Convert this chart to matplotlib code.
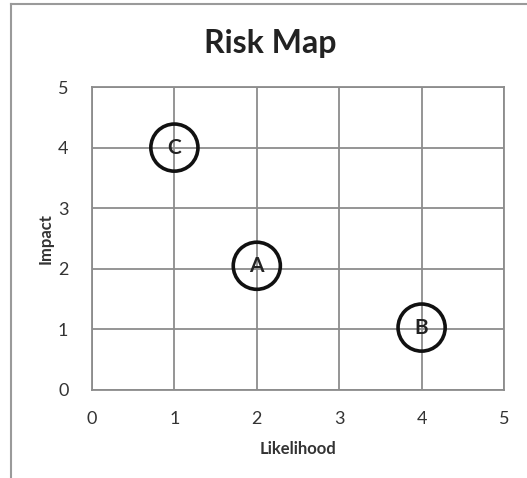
import matplotlib
matplotlib.use("Agg")
import matplotlib.pyplot as plt
from matplotlib.lines import Line2D

labels = ["A", "B", "C"]
likelihood = [2, 4, 1]
impact = [2.05, 1.03, 4.0]
ticks = [0, 1, 2, 3, 4, 5]

plt.rcParams['font.family'] = ['Lato', 'DejaVu Sans']

fig = plt.figure(figsize=(5.27, 4.78), dpi=100)
ax = fig.add_axes([92/527, 1-390/478, (504-92)/527, (390-87)/478])

# outer chart frame (left and top edges visible)
fig.add_artist(Line2D([11/527, 11/527], [-0.01, 1-4/478], transform=fig.transFigure, color='#9a9a9a', lw=1.5))
fig.add_artist(Line2D([11/527, 1.01], [1-4/478, 1-4/478], transform=fig.transFigure, color='#9a9a9a', lw=1.5))

ax.set_xlim(0, 5)
ax.set_ylim(0, 5)
ax.set_xticks(ticks)
ax.set_yticks(ticks)
ax.grid(True, color='#8c8c8c', lw=1.3)
ax.set_axisbelow(True)
for s in ax.spines.values():
    s.set_color('#8c8c8c')
    s.set_linewidth(1.3)
ax.tick_params(axis='x', length=0, labelsize=13, colors='#333333', pad=15)
ax.tick_params(axis='y', length=0, labelsize=13, colors='#333333', pad=17)

ax.scatter(likelihood, impact, s=1150, facecolors='none', edgecolors='#111111', linewidths=2.6, zorder=3)
for l, x, y in zip(labels, likelihood, impact):
    ax.text(x, y, l, ha='center', va='center', fontsize=15, fontweight='bold', color='#222222', zorder=4)

ax.set_xlabel("Likelihood", fontsize=12, fontweight='bold', color='#333333', labelpad=10)
ax.set_ylabel("Impact", fontsize=12, fontweight='bold', color='#333333', labelpad=3)
fig.text(270/527, 1-44/478, "Risk Map", ha='center', va='center', fontsize=23, fontweight='bold', color='#222222')

fig.savefig("out.png", dpi=100)
